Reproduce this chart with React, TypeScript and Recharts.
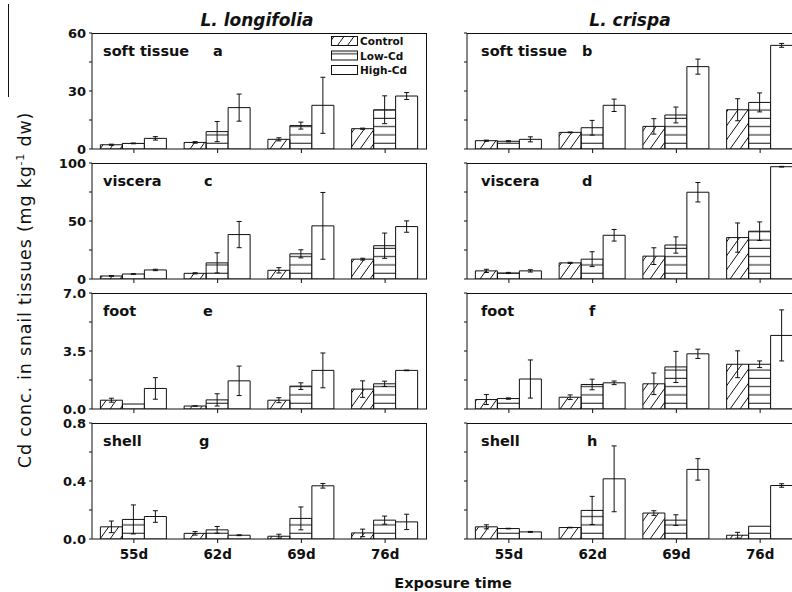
import React from 'react';
import { BarChart, Bar, XAxis, YAxis, ErrorBar } from 'recharts';

const days = ['55d', '62d', '69d', '76d'];
const seriesNames = ['Control', 'Low-Cd', 'High-Cd'];
const speciesNames = ['L. longifolia', 'L. crispa'];
const tissueNames = ['soft tissue', 'viscera', 'foot', 'shell'];
const panelLetters = [['a', 'b'], ['c', 'd'], ['e', 'f'], ['g', 'h']];

// y axes (one per row)
const yMax = [60, 100, 7, 0.8];
const softTicks = [0, 15, 30, 45, 60];
const visceraTicks = [0, 25, 50, 75, 100];
const footTicks = [0, 1.75, 3.5, 5.25, 7];
const shellTicks = [0, 0.2, 0.4, 0.6, 0.8];
const softLabels = ['0', '', '30', '', '60'];
const visceraLabels = ['0', '', '50', '', '100'];
const footLabels = ['0.0', '', '3.5', '', '7.0'];
const shellLabels = ['0.0', '', '0.4', '', '0.8'];

// a - soft tissue, L. longifolia
const aCtl = [2.2, 3.4, 5.0, 10.5];
const aCtlE = [0.3, 0.4, 0.8, 0.3];
const aLow = [2.9, 9.0, 12.1, 20.3];
const aLowE = [0.2, 5.2, 1.8, 7.2];
const aHigh = [5.5, 21.4, 22.6, 27.4];
const aHighE = [0.9, 7.0, 14.5, 1.8];

// b - soft tissue, L. crispa
const bCtl = [4.3, 8.6, 11.7, 20.3];
const bCtlE = [0.3, 0.2, 4.0, 5.7];
const bLow = [4.0, 11.0, 17.6, 24.1];
const bLowE = [0.3, 3.8, 4.1, 4.9];
const bHigh = [5.0, 22.6, 42.6, 53.6];
const bHighE = [1.3, 3.2, 3.9, 1.0];

// c - viscera, L. longifolia
const cCtl = [2.6, 4.9, 7.5, 17.1];
const cCtlE = [0.3, 0.5, 2.3, 0.8];
const cLow = [4.3, 13.9, 21.7, 28.7];
const cLowE = [0.3, 8.7, 3.5, 10.9];
const cHigh = [7.8, 38.3, 45.8, 45.2];
const cHighE = [0.6, 11.3, 28.8, 4.9];

// d - viscera, L. crispa
const dCtl = [7.0, 13.9, 19.7, 35.7];
const dCtlE = [1.4, 0.5, 7.2, 12.6];
const dLow = [5.2, 17.1, 29.3, 41.2];
const dLowE = [0.5, 6.4, 7.0, 8.0];
const dHigh = [7.0, 37.7, 74.8, 96.8];
const dHighE = [1.0, 5.0, 8.4, 0.3];

// e - foot, L. longifolia
const eCtl = [0.53, 0.18, 0.53, 1.2];
const eCtlE = [0.12, 0.01, 0.15, 0.5];
const eLow = [0.3, 0.55, 1.38, 1.52];
const eLowE = [0, 0.37, 0.2, 0.16];
const eHigh = [1.24, 1.7, 2.33, 2.33];
const eHighE = [0.65, 0.89, 1.05, 0.02];

// f - foot, L. crispa
const fCtl = [0.57, 0.71, 1.52, 2.7];
const fCtlE = [0.3, 0.14, 0.65, 0.81];
const fLow = [0.63, 1.48, 2.54, 2.7];
const fLowE = [0.04, 0.32, 0.94, 0.2];
const fHigh = [1.81, 1.58, 3.33, 4.44];
const fHighE = [1.15, 0.11, 0.28, 1.54];

// g - shell, L. longifolia
const gCtl = [0.084, 0.039, 0.019, 0.042];
const gCtlE = [0.04, 0.012, 0.014, 0.026];
const gLow = [0.135, 0.063, 0.142, 0.13];
const gLowE = [0.1, 0.023, 0.079, 0.028];
const gHigh = [0.155, 0.026, 0.367, 0.118];
const gHighE = [0.04, 0.003, 0.016, 0.053];

// h - shell, L. crispa
const hCtl = [0.084, 0.079, 0.179, 0.026];
const hCtlE = [0.014, 0.002, 0.016, 0.02];
const hLow = [0.072, 0.197, 0.13, 0.088];
const hLowE = [0.002, 0.097, 0.037, 0];
const hHigh = [0.049, 0.415, 0.48, 0.369];
const hHighE = [0.003, 0.227, 0.074, 0.012];

const rowTicks = [softTicks, visceraTicks, footTicks, shellTicks];
const rowLabels = [softLabels, visceraLabels, footLabels, shellLabels];

const panelSeries = [
  [[aCtl, aCtlE, aLow, aLowE, aHigh, aHighE], [bCtl, bCtlE, bLow, bLowE, bHigh, bHighE]],
  [[cCtl, cCtlE, cLow, cLowE, cHigh, cHighE], [dCtl, dCtlE, dLow, dLowE, dHigh, dHighE]],
  [[eCtl, eCtlE, eLow, eLowE, eHigh, eHighE], [fCtl, fCtlE, fLow, fLowE, fHigh, fHighE]],
  [[gCtl, gCtlE, gLow, gLowE, gHigh, gHighE], [hCtl, hCtlE, hLow, hLowE, hHigh, hHighE]],
];

const FONT = '"DejaVu Sans", "Liberation Sans", Arial, sans-serif';
const INK = '#111';
const fills = ['url(#hatchCtl)', 'url(#hlineLow)', '#fff'];

const rowTop = [33, 163, 293, 423];
const plotH = 116;
const labelX = [[103, 213], [103, 204], [103, 203], [103, 199]];
const labelXR = [[481, 582], [481, 582], [481, 589], [481, 587]];

const Panel = ({ row, col }: { row: number; col: number }) => {
  const [ctl, ctlE, low, lowE, high, highE] = panelSeries[row][col];
  const data = days.map((day, i) => ({
    day,
    ctl: ctl[i],
    ctlErr: ctlE[i],
    low: low[i],
    lowErr: lowE[i],
    high: high[i],
    highErr: highE[i],
  }));
  const isLeft = col === 0;
  const isBottom = row === 3;
  const labels = rowLabels[row];
  const plotLeft = isLeft ? 92 : 467;

  return (
    <>
      <div style={{ position: 'absolute', left: isLeft ? 0 : 440, top: rowTop[row] - 10 }}>
        <BarChart
          width={isLeft ? 440 : 380}
          height={10 + plotH + 30}
          data={data}
          margin={{ top: 10, right: isLeft ? 13 : 18, bottom: 0, left: 0 }}
          barCategoryGap="10%"
          barGap={0}
        >
          <XAxis
            dataKey="day"
            height={30}
            interval={0}
            tickSize={4}
            tickMargin={6}
            axisLine={{ stroke: INK }}
            tickLine={{ stroke: INK }}
            tick={{ fontSize: 13.5, fontWeight: 'bold', fill: INK, fontFamily: FONT }}
            tickFormatter={(v: string) => (isBottom ? v : '')}
          />
          <YAxis
            width={isLeft ? 92 : 27}
            type="number"
            domain={[0, yMax[row]]}
            ticks={rowTicks[row]}
            interval={0}
            allowDataOverflow
            tickSize={3}
            tickMargin={3}
            axisLine={{ stroke: INK }}
            tickLine={{ stroke: INK }}
            tick={{ fontSize: 13, fontWeight: 'bold', fill: INK, fontFamily: FONT }}
            tickFormatter={(_v: number, i: number) => (isLeft ? labels[i] : '')}
          />
          <Bar dataKey="ctl" fill={fills[0]} stroke={INK} strokeWidth={1} isAnimationActive={false}>
            <ErrorBar dataKey="ctlErr" width={2.5} stroke={INK} strokeWidth={1} isAnimationActive={false} />
          </Bar>
          <Bar dataKey="low" fill={fills[1]} stroke={INK} strokeWidth={1} isAnimationActive={false}>
            <ErrorBar dataKey="lowErr" width={2.5} stroke={INK} strokeWidth={1} isAnimationActive={false} />
          </Bar>
          <Bar dataKey="high" fill={fills[2]} stroke={INK} strokeWidth={1} isAnimationActive={false}>
            <ErrorBar dataKey="highErr" width={2.5} stroke={INK} strokeWidth={1} isAnimationActive={false} />
          </Bar>
        </BarChart>
      </div>
      {/* top and right edges of the frame */}
      <div
        style={{
          position: 'absolute',
          left: plotLeft,
          top: rowTop[row],
          width: 335,
          height: plotH,
          boxSizing: 'border-box',
          borderTop: `1px solid ${INK}`,
          borderRight: `1px solid ${INK}`,
          pointerEvents: 'none',
        }}
      />
    </>
  );
};

export default function App() {
  const panels = [];
  for (let r = 0; r < 4; r++) {
    for (let c = 0; c < 2; c++) panels.push(<Panel key={`${r}-${c}`} row={r} col={c} />);
  }

  return (
    <div
      style={{
        position: 'fixed',
        left: 0,
        top: 0,
        width: 792,
        height: 592,
        overflow: 'hidden',
        background: '#fff',
        fontFamily: FONT,
      }}
    >
      <svg width={0} height={0} style={{ position: 'absolute' }}>
        <defs>
          <pattern id="hatchCtl" patternUnits="userSpaceOnUse" width={10} height={14}>
            <path d="M-1,15.4 L11,-1.4" stroke={INK} strokeWidth={1} />
          </pattern>
          <pattern id="hlineLow" patternUnits="userSpaceOnUse" width={8} height={8.3}>
            <line x1={0} y1={4} x2={8} y2={4} stroke={INK} strokeWidth={1} />
          </pattern>
        </defs>
      </svg>

      {panels}

      <svg
        width={792}
        height={592}
        style={{ position: 'absolute', left: 0, top: 0, pointerEvents: 'none' }}
        fontFamily={FONT}
      >
        <line x1={8.5} y1={4} x2={8.5} y2={97} stroke={INK} strokeWidth={1} />

        <text x={257} y={26} textAnchor="middle" fontSize={17} fontWeight="bold" fontStyle="italic" fill={INK}>
          {speciesNames[0]}
        </text>
        <text x={630} y={26} textAnchor="middle" fontSize={17} fontWeight="bold" fontStyle="italic" fill={INK}>
          {speciesNames[1]}
        </text>

        {tissueNames.map((t, r) => (
          <g key={t} fontSize={14.5} fontWeight="bold" fill={INK}>
            <text x={labelX[r][0]} y={rowTop[r] + 22.5}>{t}</text>
            <text x={labelX[r][1]} y={rowTop[r] + 22.5}>{panelLetters[r][0]}</text>
            <text x={labelXR[r][0]} y={rowTop[r] + 22.5}>{t}</text>
            <text x={labelXR[r][1]} y={rowTop[r] + 22.5}>{panelLetters[r][1]}</text>
          </g>
        ))}

        {seriesNames.map((name, i) => (
          <g key={name}>
            <rect x={331.5} y={36.5 + i * 14.5} width={26} height={9} fill={fills[i]} stroke={INK} strokeWidth={1} />
            <text x={360} y={45 + i * 14.5} fontSize={10.5} fontWeight="bold" fill={INK}>
              {name}
            </text>
          </g>
        ))}

        <text
          transform="translate(31,290) rotate(-90)"
          textAnchor="middle"
          fontSize={17.5}
          letterSpacing={0.8}
          fill={INK}
        >
          Cd conc. in snail tissues (mg kg
          <tspan dy={-7} fontSize={11}>-1</tspan>
          <tspan dy={7}> dw)</tspan>
        </text>

        <text x={453} y={588} textAnchor="middle" fontSize={14.5} fontWeight="bold" fill={INK}>
          Exposure time
        </text>
      </svg>
    </div>
  );
}
